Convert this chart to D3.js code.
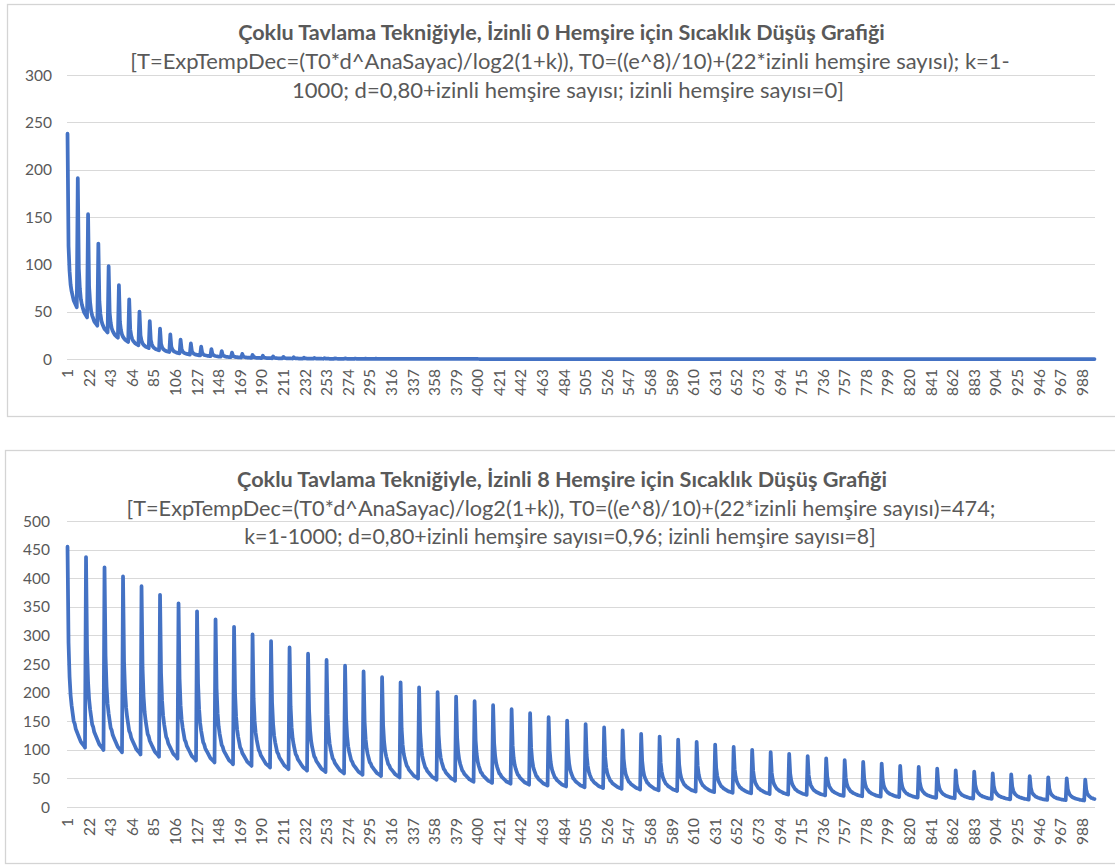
<!DOCTYPE html>
<html><head><meta charset="utf-8">
<script src="https://cdn.jsdelivr.net/npm/d3@7"></script>
<style>body{margin:0;background:#fff}svg{display:block}text{font-family:Lato,"Open Sans",sans-serif}</style>
</head><body><svg id="c" width="1115" height="865"></svg>
<script>
// ---- data ----
// category axis labels (1..1000, every 21st shown)
const xTickLabels = [1,22,43,64,85,106,127,148,169,190,211,232,253,274,295,316,337,358,379,400,421,442,463,484,505,526,547,568,589,610,631,652,673,694,715,736,757,778,799,820,841,862,883,904,925,946,967,988];
const topYTicks = [0,50,100,150,200,250,300];
const botYTicks = [0,50,100,150,200,250,300,350,400,450,500];

// chart 1 (izinli 0): peak of each restart cycle (10 points per cycle)
const topPeaks = [238,191,153,122,98,78,63,50,40,32,26,20.5,16.4,13.1,10.5,8.4,6.7,5.4,4.3,3.4,
  2.7,2.2,1.8,1.4,1.1,0.9,0.7,0.6,0.5,0.4,0.3,0.2,0.2,0.2,0.1,0.1,0.1,0.05,0.05,0.05,
  0,0,0,0,0,0,0,0,0,0, 0,0,0,0,0,0,0,0,0,0, 0,0,0,0,0,0,0,0,0,0,
  0,0,0,0,0,0,0,0,0,0, 0,0,0,0,0,0,0,0,0,0, 0,0,0,0,0,0,0,0,0,0];
// relative level of each point within a cycle (chart 1)
const topCycleShape = [1,0.50,0.39,0.33,0.30,0.28,0.26,0.25,0.24,0.23];

// chart 2 (izinli 8): peak of each restart cycle (18 points per cycle)
const botPeaks = [455,437,419,403,386,371,356,342,328,315,302,290,279,268,257,247,237,227,218,209,
  201,193,185,178,171,164,157,151,145,139,134,128,123,118,114,109,105,100,96,93,
  89,85,82,79,76,72,70,67,64,62,59,57,54,52,50,48];
const botCycleShape = [1,0.63,0.50,0.43,0.39,0.36,0.33,0.32,0.30,0.29,0.28,0.27,0.26,0.25,0.245,0.24,0.235,0.228];

const categories = d3.range(1, 1001);

function buildSeries(peaks, shape) {
  return categories.map((k, i) => {
    const c = Math.floor(i / shape.length), j = i % shape.length;
    return {k, v: peaks[c] * shape[j]};
  });
}
const topSeries = buildSeries(topPeaks, topCycleShape);
const botSeries = buildSeries(botPeaks, botCycleShape);

// ---- drawing ----
const svg = d3.select("#c");
const grey = "#595959", gridC = "#d9d9d9", lineC = "#4472C4";

function fitText(sel, target) {
  const len = sel.node().getComputedTextLength();
  const fs = parseFloat(sel.attr("font-size"));
  sel.attr("font-size", (fs * target / len).toFixed(2));
}

function drawChart(cfg) {
  const g = svg.append("g");
  g.append("rect").attr("x", cfg.box[0]).attr("y", cfg.box[1]).attr("width", cfg.box[2]).attr("height", cfg.box[3])
    .attr("fill", "#fff").attr("stroke", "#d4d4d4").attr("stroke-width", 1.3);

  cfg.titles.forEach(t => {
    const s = g.append("text").attr("x", t.cx).attr("y", t.y).attr("text-anchor", "middle")
      .attr("font-size", 18).attr("font-weight", t.bold ? 700 : 400).attr("fill", grey).text(t.text);
    fitText(s, t.w);
  });

  const x = d3.scalePoint().domain(categories).range(cfg.xr).padding(0.5);
  const y = d3.scaleLinear().domain([0, cfg.ymax]).range(cfg.yr);

  g.append("g").selectAll("line").data(cfg.yticks).join("line")
    .attr("x1", cfg.xr[0]).attr("x2", cfg.xr[1])
    .attr("y1", d => Math.round(y(d)) + 0.5).attr("y2", d => Math.round(y(d)) + 0.5)
    .attr("stroke", gridC).attr("stroke-width", 1);

  g.append("g").selectAll("text").data(cfg.yticks).join("text")
    .attr("x", cfg.ylabX).attr("y", d => y(d)).attr("dy", "0.36em").attr("text-anchor", "end")
    .attr("font-size", 15.5).attr("fill", grey).text(d => d);

  g.append("g").selectAll("text").data(xTickLabels).join("text")
    .attr("transform", d => `translate(${x(d)},${cfg.xlabY}) rotate(-90)`)
    .attr("dy", "0.36em").attr("text-anchor", "end")
    .attr("font-size", 15.5).attr("fill", grey).text(d => d);

  const line = d3.line().x(d => x(d.k)).y(d => y(d.v));
  g.append("path").datum(cfg.series).attr("d", line).attr("fill", "none")
    .attr("stroke", lineC).attr("stroke-width", 3.75).attr("stroke-linejoin", "round").attr("stroke-linecap", "round");
}

drawChart({
  box: [7.5, 4.5, 1112, 412],
  titles: [
    {text: "Çoklu Tavlama Tekniğiyle, İzinli 0 Hemşire için Sıcaklık Düşüş Grafiği", cx: 561.5, y: 40, w: 647, bold: true},
    {text: "[T=ExpTempDec=(T0*d^AnaSayac)/log2(1+k)), T0=((e^8)/10)+(22*izinli hemşire sayısı); k=1-", cx: 570, y: 69, w: 880},
    {text: "1000; d=0,80+izinli hemşire sayısı; izinli hemşire sayısı=0]", cx: 568, y: 98, w: 552}
  ],
  xr: [67, 1095], yr: [359, 75], ymax: 300, yticks: topYTicks, ylabX: 52, xlabY: 369,
  series: topSeries
});

drawChart({
  box: [5.5, 450.5, 1114, 413],
  titles: [
    {text: "Çoklu Tavlama Tekniğiyle, İzinli 8 Hemşire için Sıcaklık Düşüş Grafiği", cx: 562, y: 487, w: 650, bold: true},
    {text: "[T=ExpTempDec=(T0*d^AnaSayac)/log2(1+k)), T0=((e^8)/10)+(22*izinli hemşire sayısı)=474;", cx: 561, y: 516, w: 869},
    {text: "k=1-1000; d=0,80+izinli hemşire sayısı=0,96; izinli hemşire sayısı=8]", cx: 560, y: 544, w: 632}
  ],
  xr: [67, 1095], yr: [807, 521], ymax: 500, yticks: botYTicks, ylabX: 50, xlabY: 818,
  series: botSeries
});
</script></body></html>
